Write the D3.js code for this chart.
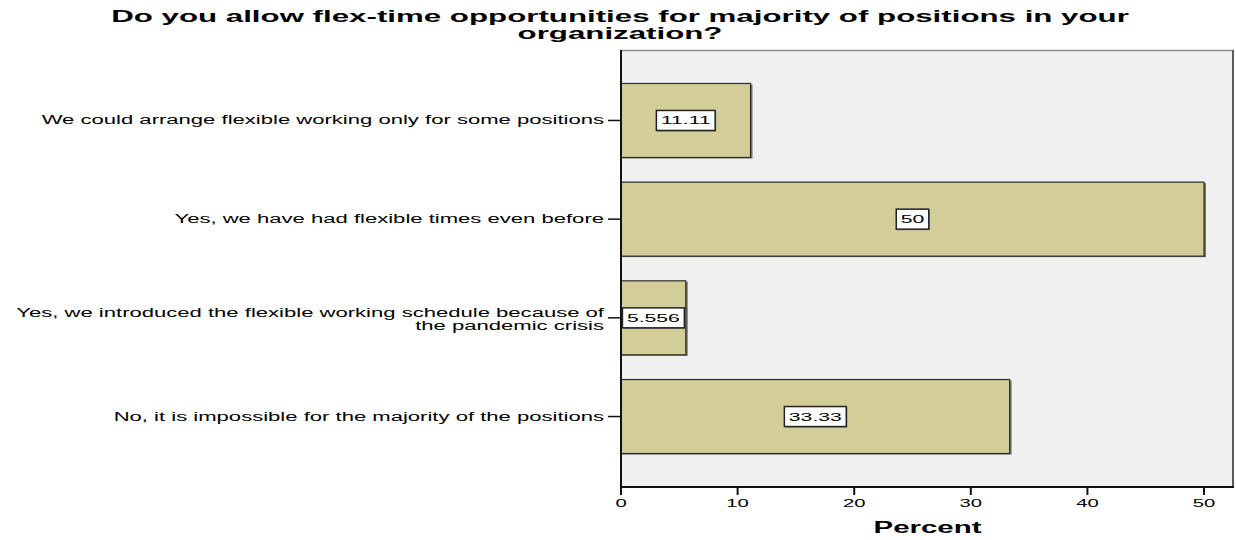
<!DOCTYPE html>
<html>
<head>
<meta charset="utf-8">
<script src="https://cdn.jsdelivr.net/npm/d3@7"></script>
<style>
  html, body { margin: 0; padding: 0; background: #ffffff; }
  svg { display: block; }
  text { font-family: "Liberation Sans", Arial, sans-serif; fill: #000; }
</style>
</head>
<body>
<svg id="chart" width="1236" height="540"></svg>
<script>
// Survey answers (one bar per answer) and their share of respondents, in percent
const categories = [
  ["We could arrange flexible working only for some positions"],
  ["Yes, we have had flexible times even before"],
  ["Yes, we introduced the flexible working schedule because of", "the pandemic crisis"],
  ["No, it is impossible for the majority of the positions"]
];
const percents = [11.11, 50, 5.556, 33.33];
const xTicks = [0, 10, 20, 30, 40, 50];
const titleLines = [
  "Do you allow flex-time opportunities for majority of positions in your",
  "organization?"
];
const xTitle = "Percent";

const W = 1236, H = 540;
const plot = { left: 621, right: 1234, top: 50, bottom: 487 };
const SX = 1.84;          // horizontal stretch of the typeface
const barFill = "#d3ce97";
const plotBg = "#f0f0f0";

const svg = d3.select("#chart");

// Text helper: glyphs are widened horizontally around the anchor point
function stretchedText(parent, x, y, str, opts) {
  const g = parent.append("g").attr("transform", `translate(${x},${y}) scale(${SX},1)`);
  const t = g.append("text")
    .attr("x", 0).attr("y", 0)
    .attr("text-anchor", opts.anchor || "start")
    .attr("font-size", opts.size)
    .attr("font-weight", opts.weight || "normal")
    .text(str);
  return t;
}

const x = d3.scaleLinear().domain([0, 52.57]).range([plot.left, plot.right]);
const y = d3.scaleBand()
  .domain(d3.range(categories.length))
  .range([plot.top, plot.bottom])
  .paddingInner(0.25)
  .paddingOuter(0.339);

// Plot background and frame
svg.append("rect")
  .attr("x", plot.left).attr("y", plot.top)
  .attr("width", plot.right - plot.left).attr("height", plot.bottom - plot.top)
  .attr("fill", plotBg);
svg.append("line")
  .attr("x1", plot.left).attr("x2", plot.right)
  .attr("y1", plot.top + 0.5).attr("y2", plot.top + 0.5)
  .attr("stroke", "#8a8a8a").attr("stroke-width", 1.5);
svg.append("line")
  .attr("x1", plot.right - 1).attr("x2", plot.right - 1)
  .attr("y1", plot.top).attr("y2", plot.bottom)
  .attr("stroke", "#5a5a5a").attr("stroke-width", 2);

// Bars with a soft right-hand shadow
const bars = svg.append("g");
percents.forEach((v, i) => {
  bars.append("rect")
    .attr("x", x(0)).attr("y", y(i) + 1)
    .attr("width", x(v) - x(0) + 2).attr("height", y.bandwidth())
    .attr("fill", "#7a7a6a");
  bars.append("rect")
    .attr("x", x(0)).attr("y", y(i))
    .attr("width", x(v) - x(0)).attr("height", y.bandwidth())
    .attr("fill", barFill)
    .attr("stroke", "#2a2a2a").attr("stroke-width", 1.2);
});

// Axes lines
svg.append("line")
  .attr("x1", plot.left).attr("x2", plot.left)
  .attr("y1", plot.top).attr("y2", plot.bottom + 8)
  .attr("stroke", "#111").attr("stroke-width", 2);
svg.append("line")
  .attr("x1", plot.left).attr("x2", plot.right)
  .attr("y1", plot.bottom).attr("y2", plot.bottom)
  .attr("stroke", "#111").attr("stroke-width", 2);

// X ticks and labels
const xAxis = svg.append("g");
xTicks.forEach(t => {
  xAxis.append("line")
    .attr("x1", x(t)).attr("x2", x(t))
    .attr("y1", plot.bottom).attr("y2", plot.bottom + 8)
    .attr("stroke", "#111").attr("stroke-width", 2);
  stretchedText(xAxis, x(t), 507, String(t), { anchor: "middle", size: 11 });
});

// Y ticks and category labels
const yAxis = svg.append("g");
categories.forEach((lines, i) => {
  const c = y(i) + y.bandwidth() / 2;
  yAxis.append("line")
    .attr("x1", plot.left - 13).attr("x2", plot.left)
    .attr("y1", c).attr("y2", c)
    .attr("stroke", "#111").attr("stroke-width", 1.5);
  if (lines.length === 1) {
    stretchedText(yAxis, 604, c + 4, lines[0], { anchor: "end", size: 12 });
  } else {
    stretchedText(yAxis, 604, c - 1, lines[0], { anchor: "end", size: 12 });
    stretchedText(yAxis, 604, c + 12, lines[1], { anchor: "end", size: 12 });
  }
});

// Value labels in boxes at the bar centres
const fmt = d3.format(".4~g");
const labels = svg.append("g");
percents.forEach((v, i) => {
  const cx = (x(0) + x(v)) / 2;
  const cy = y(i) + y.bandwidth() / 2;
  const g = labels.append("g");
  const shadow = g.append("rect");
  const box = g.append("rect");
  const t = stretchedText(g, cx, cy + 4, fmt(v), { anchor: "middle", size: 11.5 });
  const w = t.node().getComputedTextLength() * SX + 9;
  const h = 20;
  shadow.attr("x", cx - w / 2 + 1).attr("y", cy - h / 2 + 1)
    .attr("width", w).attr("height", h).attr("fill", "#777");
  box.attr("x", cx - w / 2).attr("y", cy - h / 2)
    .attr("width", w).attr("height", h)
    .attr("fill", "#fff").attr("stroke", "#222").attr("stroke-width", 1.5);
});

// Titles
stretchedText(svg, 620, 22, titleLines[0], { anchor: "middle", size: 17, weight: "bold" });
stretchedText(svg, 620, 39, titleLines[1], { anchor: "middle", size: 17, weight: "bold" });
stretchedText(svg, (plot.left + plot.right) / 2, 533, xTitle, { anchor: "middle", size: 16, weight: "bold" });
</script>
</body>
</html>
